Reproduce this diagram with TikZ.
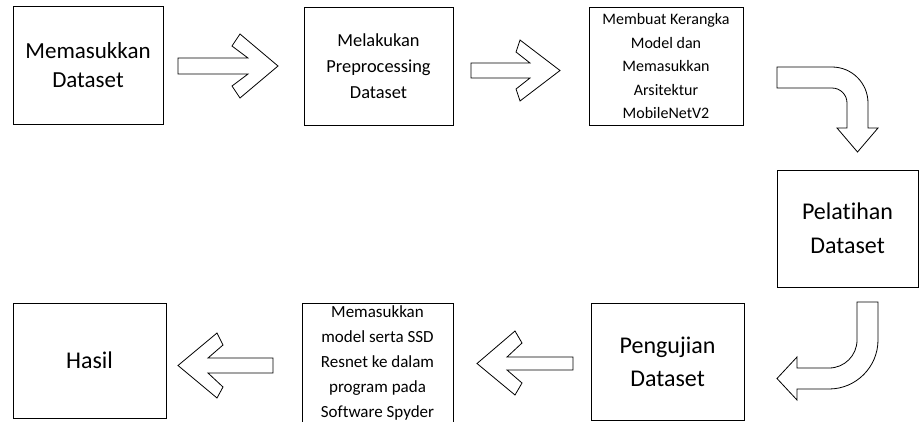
\documentclass[tikz,border=0pt]{standalone}
\usepackage{fontspec}
\setmainfont{Carlito}[Ligatures=NoCommon]
\begin{document}
\begin{tikzpicture}[x=1pt,y=-1pt,
  box/.style={draw=black,line width=0.8pt,rectangle,inner sep=0pt,align=center,text=black},
  blockarrow/.style={draw=black,line width=0.8pt,fill=white,line join=miter}]
\useasboundingbox (0,0) rectangle (920,421);
% boxes
\node[box,minimum width=150pt,minimum height=118pt,font=\fontsize{23}{29}\selectfont] (b1) at (88,65) {Memasukkan\\Dataset};
\node[box,minimum width=149pt,minimum height=118pt,font=\fontsize{18.4}{26}\selectfont] (b2) at (378.5,66) {Melakukan\\Preprocessing\\Dataset};
\node[box,minimum width=154pt,minimum height=118pt,font=\fontsize{16}{23.5}\selectfont] (b3) at (666,66) {Membuat Kerangka\\Model dan\\Memasukkan\\Arsitektur\\MobileNetV2};
\node[box,minimum width=141pt,minimum height=117pt,font=\fontsize{24}{34}\selectfont] (b4) at (847.5,228.5) {Pelatihan\\Dataset};
\node[box,minimum width=153pt,minimum height=117pt,font=\fontsize{24}{33}\selectfont] (b5) at (667.5,361.5) {Pengujian\\Dataset};
\node[box,minimum width=151pt,minimum height=120pt,font=\fontsize{17}{25}\selectfont] (b6) at (377.5,363) {Memasukkan\\model serta SSD\\Resnet ke dalam\\program pada\\Software Spyder};
\node[box,minimum width=153pt,minimum height=115pt,font=\fontsize{24}{30}\selectfont] (b7) at (89.5,360.5) {Hasil};
% block arrows
\draw[blockarrow] (178,58) -- (248,58) -- (232,46) -- (240,34) -- (278,66) -- (240,98) -- (232,86) -- (248,74) -- (178,74) -- cycle;
\draw[blockarrow] (471,63) -- (530,63) -- (516,52) -- (520,40) -- (560,70.5) -- (520,101) -- (516,89) -- (530,78) -- (471,78) -- cycle;
\draw[blockarrow] (777,67) -- (832,67) .. controls (851.9,67) and (868,83.1) .. (868,103) -- (868,128) -- (878,128) -- (857.5,152) -- (837,128) -- (847,128) -- (847,103) .. controls (847,94.7) and (840.3,88) .. (832,88) -- (777,88) -- cycle;
\draw[blockarrow] (857,302) -- (857,340) .. controls (857,355.5) and (844.5,368) .. (829,368) -- (797,368) -- (797,357) -- (777,378.5) -- (797,400) -- (797,389) -- (829,389) .. controls (856,389) and (878,367) .. (878,340) -- (878,302) -- cycle;
\draw[blockarrow] (573,357) -- (507,357) -- (522,343) -- (515,331) -- (477,363.5) -- (515,395) -- (522,383) -- (507,370) -- (573,370) -- cycle;
\draw[blockarrow] (273,358) -- (208,358) -- (223,345) -- (217,333) -- (178,365.5) -- (217,398) -- (223,387) -- (208,373) -- (273,373) -- cycle;
\end{tikzpicture}
\end{document}
